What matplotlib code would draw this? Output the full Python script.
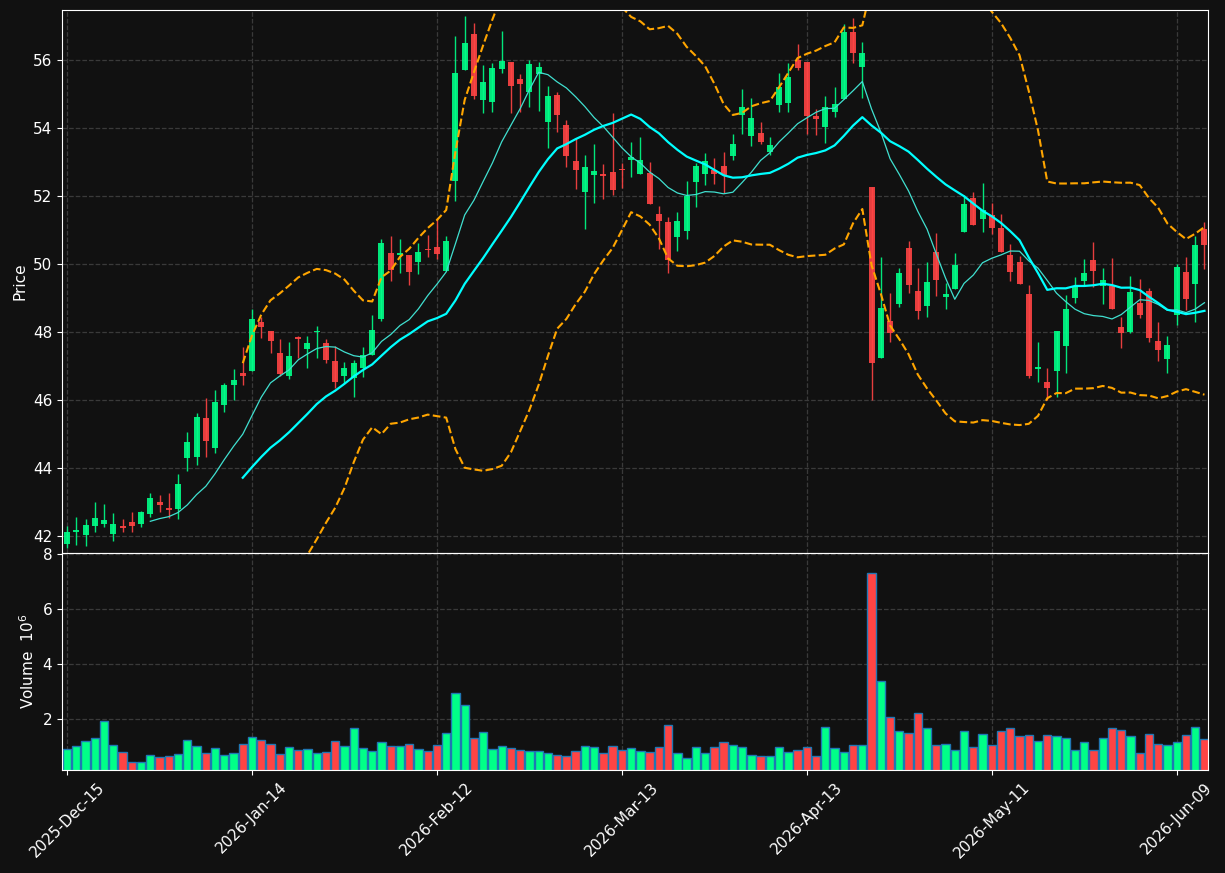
import matplotlib
matplotlib.use("Agg")
import matplotlib.pyplot as plt
import numpy as np
import pandas as pd

# trading days (NYSE holidays removed)
holidays = ["2025-12-25", "2026-01-01", "2026-01-19", "2026-02-16", "2026-04-03", "2026-05-25"]
dates = pd.bdate_range("2025-12-15", "2026-06-12")
dates = dates[~dates.isin(pd.to_datetime(holidays))]

opens = [41.77, 42.13, 42.03, 42.29, 42.35, 42.06, 42.30, 42.41, 42.35, 42.65,
         43.00, 42.83, 42.79, 44.30, 44.33, 45.47, 44.60, 45.85, 46.45, 46.79,
         46.85, 48.30, 48.03, 47.38, 46.71, 47.84, 47.50, 48.00, 47.68, 47.15,
         46.71, 46.66, 46.93, 47.32, 48.39, 50.33, 50.27, 50.26, 50.07, 50.45,
         50.49, 49.80, 52.45, 55.71, 56.75, 54.82, 54.77, 55.74, 55.93, 55.44,
         55.07, 55.58, 54.16, 54.97, 54.09, 53.03, 52.13, 52.63, 52.65, 52.71,
         52.80, 53.06, 52.66, 52.67, 51.47, 51.24, 50.80, 50.98, 52.42, 52.64,
         52.76, 52.88, 53.18, 54.38, 53.77, 53.84, 53.30, 54.66, 54.74, 56.00,
         55.94, 54.35, 54.04, 54.48, 54.84, 56.81, 55.80, 52.26, 47.24, 48.32,
         48.82, 50.47, 49.21, 48.76, 50.35, 49.04, 49.26, 50.95, 51.95, 51.33,
         51.43, 51.06, 50.26, 50.06, 49.12, 46.91, 46.54, 46.86, 47.60, 49.01,
         49.50, 50.12, 49.36, 49.36, 48.15, 48.01, 48.85, 49.21, 47.74, 47.19,
         48.50, 49.77, 49.42, 51.03]
highs = [42.29, 42.57, 42.49, 42.99, 42.94, 42.67, 42.49, 42.69, 42.74, 43.27,
         43.21, 43.26, 43.82, 45.05, 45.61, 46.06, 46.29, 46.49, 46.90, 47.55,
         48.67, 48.45, 48.03, 47.79, 47.71, 47.88, 47.88, 48.18, 47.79, 47.59,
         47.13, 47.18, 47.55, 48.50, 50.73, 50.82, 50.73, 50.26, 50.61, 50.84,
         51.36, 50.82, 56.71, 57.29, 57.10, 55.85, 55.90, 56.84, 55.93, 55.59,
         56.00, 55.95, 55.24, 55.05, 54.24, 53.70, 53.21, 53.53, 52.94, 54.45,
         52.98, 53.60, 53.73, 52.99, 51.71, 51.39, 51.54, 52.45, 52.96, 53.26,
         53.11, 53.29, 53.82, 55.14, 54.87, 54.16, 53.73, 55.61, 55.90, 56.47,
         55.94, 54.55, 54.95, 55.21, 57.06, 57.23, 56.54, 52.26, 50.20, 49.14,
         49.87, 50.68, 49.87, 50.05, 50.90, 49.45, 50.31, 52.03, 52.13, 52.37,
         51.80, 51.46, 50.58, 50.22, 49.38, 47.70, 46.93, 48.03, 49.09, 49.61,
         50.14, 50.64, 49.87, 50.17, 48.45, 49.64, 49.55, 49.29, 48.28, 47.88,
         49.99, 50.20, 50.82, 51.24]
lows = [41.64, 41.74, 41.69, 42.13, 42.27, 41.86, 42.13, 42.13, 42.27, 42.57,
        42.71, 42.52, 42.49, 43.92, 44.09, 44.33, 44.43, 45.66, 46.00, 46.43,
        46.85, 47.81, 47.37, 46.69, 46.61, 47.23, 46.93, 47.23, 47.08, 46.34,
        46.49, 46.08, 46.67, 47.32, 48.33, 49.50, 49.74, 49.38, 49.70, 50.20,
        50.14, 49.80, 51.86, 55.71, 54.84, 54.43, 54.48, 55.61, 54.45, 54.48,
        54.61, 54.51, 53.42, 53.89, 52.86, 52.20, 51.02, 51.78, 51.90, 52.03,
        52.23, 52.57, 52.66, 51.76, 50.43, 49.74, 50.39, 50.73, 51.67, 52.31,
        52.35, 52.10, 53.06, 53.81, 53.47, 53.53, 53.20, 54.48, 54.48, 55.71,
        53.81, 53.79, 53.55, 54.31, 54.84, 55.92, 54.87, 46.00, 47.24, 47.69,
        48.74, 49.16, 48.37, 48.45, 49.07, 48.67, 49.26, 50.95, 51.16, 50.93,
        50.87, 50.36, 49.51, 49.40, 46.64, 46.54, 46.00, 46.10, 46.80, 48.86,
        49.37, 49.31, 48.81, 48.68, 47.52, 47.98, 48.42, 47.71, 47.15, 46.79,
        48.19, 48.65, 48.29, 49.86]
closes = [42.12, 42.18, 42.32, 42.53, 42.47, 42.35, 42.24, 42.29, 42.69, 43.12,
          42.91, 42.76, 43.53, 44.76, 45.50, 44.80, 45.94, 46.44, 46.59, 46.71,
          48.38, 48.16, 47.74, 46.77, 47.29, 47.79, 47.67, 48.02, 47.18, 46.54,
          46.94, 47.08, 47.32, 48.06, 50.61, 49.82, 50.32, 49.77, 50.35, 50.42,
          50.30, 50.68, 55.63, 56.51, 54.94, 55.36, 55.75, 55.97, 55.24, 55.29,
          55.88, 55.79, 54.94, 54.38, 53.16, 52.76, 52.86, 52.74, 52.60, 52.18,
          52.76, 53.14, 53.06, 51.76, 51.26, 50.12, 51.26, 52.00, 52.88, 53.03,
          52.64, 52.62, 53.53, 54.61, 54.28, 53.60, 53.50, 55.20, 55.49, 55.77,
          54.36, 54.27, 54.61, 54.70, 56.83, 56.21, 56.21, 47.10, 48.71, 47.96,
          49.74, 49.38, 48.63, 49.47, 49.53, 49.12, 49.97, 51.77, 51.16, 51.58,
          51.07, 50.36, 49.77, 49.42, 46.69, 46.97, 46.36, 48.03, 48.67, 49.36,
          49.74, 49.80, 49.52, 48.68, 47.98, 49.18, 48.51, 47.83, 47.48, 47.62,
          49.91, 48.97, 50.56, 50.56]
# volume in millions
volumes = [0.90, 1.01, 1.19, 1.30, 1.93, 1.05, 0.79, 0.42, 0.42, 0.68,
           0.61, 0.64, 0.72, 1.23, 1.01, 0.75, 0.94, 0.68, 0.75, 1.08,
           1.34, 1.23, 1.08, 0.72, 0.97, 0.86, 0.90, 0.75, 0.79, 1.19,
           1.01, 1.67, 0.94, 0.83, 1.16, 1.01, 1.01, 1.08, 0.90, 0.83,
           1.05, 1.49, 2.95, 2.48, 1.30, 1.52, 0.90, 1.01, 0.94, 0.86,
           0.83, 0.83, 0.75, 0.68, 0.64, 0.83, 1.01, 0.97, 0.75, 1.01,
           0.86, 0.94, 0.83, 0.80, 0.98, 1.78, 0.76, 0.58, 0.98, 0.76,
           0.98, 1.16, 1.05, 0.98, 0.69, 0.62, 0.65, 0.95, 0.80, 0.84,
           0.98, 0.65, 1.71, 0.91, 0.80, 1.02, 1.05, 7.31, 3.38, 2.07,
           1.53, 1.49, 2.22, 1.64, 1.05, 1.09, 0.84, 1.53, 0.95, 1.45,
           1.05, 1.53, 1.64, 1.38, 1.42, 1.20, 1.42, 1.38, 1.31, 0.84,
           1.13, 0.84, 1.31, 1.64, 1.60, 1.35, 0.76, 1.45, 1.09, 1.05,
           1.13, 1.42, 1.71, 1.24]

BG = "#111111"
UP = "#00ff88"
DOWN = "#ff4444"

o = np.array(opens)
h = np.array(highs)
l = np.array(lows)
c = np.array(closes)
v = np.array(volumes)
x = np.arange(len(c))
cols = np.where(c >= o, UP, DOWN)

close_s = pd.Series(c)
ma10 = close_s.rolling(10).mean()
ma20 = close_s.rolling(20).mean()
sd20 = close_s.rolling(20).std()
bb_up = ma20 + 2 * sd20
bb_lo = ma20 - 2 * sd20

plt.rcParams["font.family"] = "DejaVu Sans"
fig = plt.figure(figsize=(12.25, 8.73), dpi=100, facecolor=BG)
ax = fig.add_axes([0.0506, 0.3666, 0.9355, 0.6220], facecolor=BG)
axv = fig.add_axes([0.0506, 0.118, 0.9355, 0.2486], facecolor=BG, sharex=ax)

# candles
ax.vlines(x, l, h, colors=cols, linewidth=1, alpha=0.9)
body = np.maximum(np.abs(c - o), 0.03)
ax.bar(x, body, bottom=np.minimum(o, c), width=0.65, color=cols, alpha=0.9, linewidth=0)

ax.plot(x, ma10, color="#40e0d0", linewidth=0.9)
ax.plot(x, ma20, color="#00ffff", linewidth=1.6)
ax.plot(x, bb_up, color="orange", linestyle="--", linewidth=1.5)
ax.plot(x, bb_lo, color="orange", linestyle="--", linewidth=1.5)

# volume
axv.bar(x, v, width=0.9, color=cols, edgecolor="#1f77b4", linewidth=1)

ax.set_xlim(-0.55, len(c) - 0.62)
ax.set_ylim(41.5, 57.47)
axv.set_ylim(0.3 * v.min(), 1.1 * v.max())

ticks = x[::20]
axv.set_xticks(ticks)
axv.set_xticklabels([dates[i].strftime("%Y-%b-%d") for i in ticks], rotation=45)
ax.tick_params(axis="x", labelbottom=False)
ax.set_yticks(np.arange(42, 57, 2))
axv.set_yticks([2, 4, 6, 8])

ax.set_ylabel("Price", color="white", fontsize=11)
axv.set_ylabel("Volume  $10^{6}$", color="white", fontsize=11)

for a in (ax, axv):
    a.grid(True, linestyle="--", color="#3a3a3a", linewidth=0.9)
    a.set_axisbelow(True)
    a.tick_params(colors="white", labelsize=11)
    for s in a.spines.values():
        s.set_color("white")

fig.savefig("out.png", dpi=100, facecolor=BG)
